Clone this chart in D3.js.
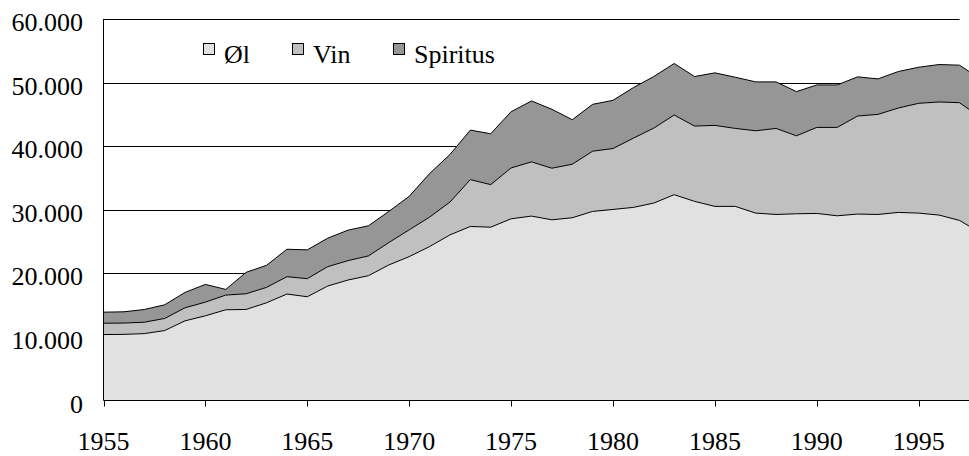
<!DOCTYPE html>
<html><head><meta charset="utf-8">
<script src="https://cdn.jsdelivr.net/npm/d3@7"></script>
<style>
html,body{margin:0;padding:0;background:#fff;}
</style></head>
<body><svg id="c" width="969" height="456"></svg>
<script>
const years = d3.range(1955, 1999);
const ol = [10370,10400,10520,11000,12530,13320,14270,14320,15370,16740,16320,18000,18950,19630,21320,22630,
  24210,26050,27370,27260,28580,29000,28420,28740,29740,30050,30370,31050,32370,31320,
  30530,30530,29470,29260,29370,29420,29050,29320,29260,29580,29470,29160,28320,26420];
const vin = [1780,1780,1790,1900,2050,2150,2310,2470,2420,2730,2840,3050,3050,3110,3520,4210,
  4630,5160,7370,6690,8000,8530,8110,8420,9470,9580,10890,11790,12530,11840,
  12740,12260,12950,13530,12260,13530,13900,15420,15740,16420,17270,17790,18520,18160];
const spiritus = [1740,1770,2000,2150,2420,2790,890,3370,3470,4320,4530,4480,4790,4740,4900,5270,
  6850,7480,7790,8000,8840,9580,9270,7000,7370,7580,7950,8110,8100,7790,
  8260,8050,7690,7320,6950,6680,6680,6160,5580,5740,5680,5890,5900,6050];
const seriesNames = ["Øl","Vin","Spiritus"];
const seriesColors = ["#e1e1e1","#c0c0c0","#969696"];
const yTicks = [0,10000,20000,30000,40000,50000,60000];
const yTickLabels = ["0","10.000","20.000","30.000","40.000","50.000","60.000"];
const xTicks = [1955,1960,1965,1970,1975,1980,1985,1990,1995];

const FONT = "Liberation Serif, DejaVu Serif, serif";
const rows = years.map((y,i)=>({year:y,"Øl":ol[i],"Vin":vin[i],"Spiritus":spiritus[i]}));
const svg = d3.select("#c");
const x = d3.scaleLinear().domain([1955,1997]).range([103.5,959.5]);
const y = d3.scaleLinear().domain([0,60000]).range([400.5,19]);
const stack = d3.stack().keys(seriesNames)(rows);

// gridlines
svg.append("g").selectAll("line").data(yTicks.slice(1)).join("line")
  .attr("x1",x(1955)).attr("x2",x(1997)).attr("y1",d=>Math.round(y(d))+0.5).attr("y2",d=>Math.round(y(d))+0.5)
  .attr("stroke","#000").attr("stroke-width",1);

const area = d3.area().x(d=>x(d.data.year)).y0(d=>y(d[0])).y1(d=>y(d[1]));
const line = d3.line().x(d=>x(d.data.year)).y(d=>y(d[1]));
svg.append("g").selectAll("path").data(stack).join("path")
  .attr("d",area).attr("fill",(d,i)=>seriesColors[i]);
svg.append("g").selectAll("path").data(stack).join("path")
  .attr("d",line).attr("fill","none").attr("stroke","#000").attr("stroke-width",1);

// axes
svg.append("line").attr("x1",x(1955)).attr("x2",969).attr("y1",y(0)).attr("y2",y(0)).attr("stroke","#000");
svg.append("line").attr("x1",x(1955)).attr("x2",x(1955)).attr("y1",y(60000)).attr("y2",y(0)).attr("stroke","#000");
svg.append("g").selectAll("line").data(xTicks).join("line")
  .attr("x1",d=>Math.round(x(d))+0.5).attr("x2",d=>Math.round(x(d))+0.5)
  .attr("y1",y(0)).attr("y2",y(0)+6).attr("stroke","#000");
svg.append("g").selectAll("text").data(xTicks).join("text")
  .style("font-family",FONT).style("font-size","26px")
  .attr("x",d=>x(d)).attr("y",450).attr("text-anchor","middle").text(d=>d);
svg.append("g").selectAll("text").data(yTicks).join("text")
  .style("font-family",FONT).style("font-size","26px")
  .attr("x",83).attr("y",d=>y(d)+12).attr("text-anchor","end").text((d,i)=>yTickLabels[i]);

// legend
const legX = [203,292,393];
const lg = svg.append("g").selectAll("g").data(seriesNames).join("g")
  .attr("transform",(d,i)=>`translate(${legX[i]},0)`);
lg.append("rect").attr("x",0.5).attr("y",43.5).attr("width",11).attr("height",11)
  .attr("fill",(d,i)=>seriesColors[i]).attr("stroke","#000");
lg.append("text").style("font-family",FONT).style("font-size","26px")
  .attr("x",21).attr("y",63).text(d=>d);
</script></body></html>
